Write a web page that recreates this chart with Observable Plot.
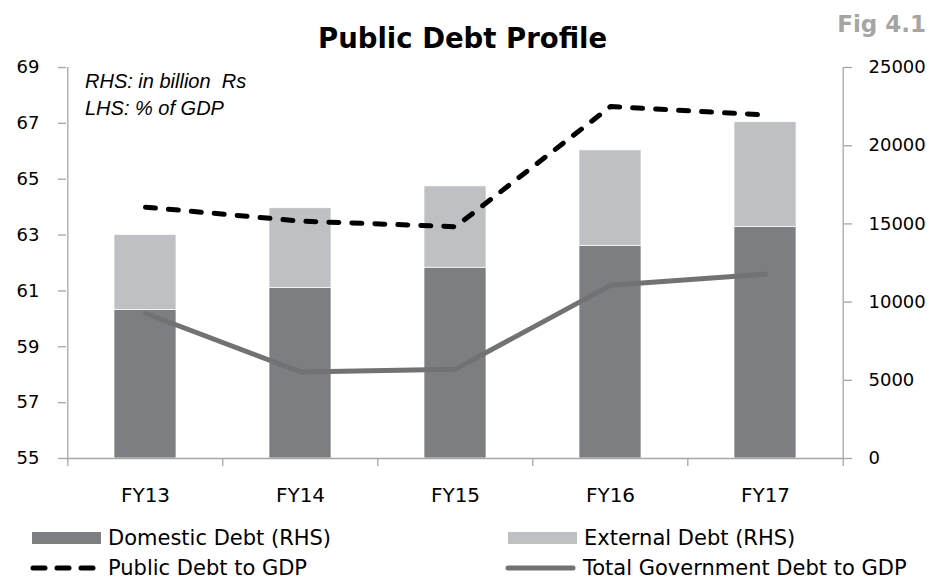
<!DOCTYPE html>
<html>
<head>
<meta charset="utf-8">
<script src="https://cdn.jsdelivr.net/npm/d3@7"></script>
<script src="https://cdn.jsdelivr.net/npm/@observablehq/plot@0.6"></script>
<style>
  body { margin: 0; background: #fff; }
  #wrap { position: relative; width: 938px; height: 582px; overflow: hidden; font-family: "DejaVu Sans", sans-serif; color: #000; }
  #chart { position: absolute; left: 0; top: 0; }
  .ov { position: absolute; white-space: nowrap; z-index: 2; }
  #title { left: 318px; top: 25px; font-size: 27.5px; line-height: 27px; font-weight: bold; }
  #fig { right: 12px; top: 13px; font-size: 23px; line-height: 23px; font-weight: bold; color: #a5a5a5; }
  #note { left: 85px; top: 68px; font-family: "Liberation Sans", sans-serif; font-style: italic; font-size: 20px; line-height: 27px; }
  .lg { position: absolute; display: flex; align-items: center; font-size: 21px; line-height: 22px; white-space: nowrap; }
  .lg svg { display: block; margin-right: 7px; }
</style>
</head>
<body>
<div id="wrap">
  <div id="chart"></div>
  <div id="title" class="ov">Public Debt Profile</div>
  <div id="fig" class="ov">Fig 4.1</div>
  <div id="note" class="ov">RHS: in billion&nbsp; Rs<br>LHS: % of GDP</div>
  <div id="legend"></div>
</div>
<script>
// ---- data ----
const years = ["FY13", "FY14", "FY15", "FY16", "FY17"];
const domesticDebt = [9500, 10900, 12200, 13600, 14800];      // RHS, billion Rs
const externalDebt = [4800, 5100, 5200, 6100, 6700];          // RHS, billion Rs
const publicDebtToGDP = [64.0, 63.5, 63.3, 67.6, 67.3];       // LHS, % of GDP
const totalGovDebtToGDP = [60.2, 58.1, 58.2, 61.2, 61.6];     // LHS, % of GDP
const leftTicks = [55, 57, 59, 61, 63, 65, 67, 69];
const rightTicks = [0, 5000, 10000, 15000, 20000, 25000];
const seriesNames = ["Domestic Debt (RHS)", "External Debt (RHS)", "Public Debt to GDP", "Total Government Debt to GDP"];

// ---- styling ----
const colDomestic = "#7d7e82";
const colExternal = "#bfc0c3";
const colPublic = "#000000";
const colTotal = "#727272";
const axisCol = "#a6a6a6";
const dash = "10,13";

const W = 938, H = 520, mL = 66, mR = 95, mT = 67, mB = 62;
const pIn = 0.6, pOut = 0.3;
const step = (W - mL - mR) / (years.length - pIn + 2 * pOut);

const lMin = leftTicks[0], lMax = leftTicks[leftTicks.length - 1];
const rMax = rightTicks[rightTicks.length - 1];
const toR = v => (v - lMin) / (lMax - lMin) * rMax;
const fromR = r => lMin + r / rMax * (lMax - lMin);

const bars = years.flatMap((y, i) => [
  {year: y, type: seriesNames[0], value: domesticDebt[i]},
  {year: y, type: seriesNames[1], value: externalDebt[i]}
]);
const pub = years.map((y, i) => ({year: y, v: publicDebtToGDP[i]}));
const tot = years.map((y, i) => ({year: y, v: totalGovDebtToGDP[i]}));
const boundaries = [
  ...years.map(y => ({year: y, side: -1})),
  {year: years[years.length - 1], side: 1}
];

const chart = Plot.plot({
  width: W, height: H,
  marginLeft: mL, marginRight: mR, marginTop: mT, marginBottom: mB,
  style: {fontFamily: "DejaVu Sans, sans-serif", fontSize: "18px", color: "#000", background: "transparent", overflow: "visible"},
  x: {domain: years, paddingInner: pIn, paddingOuter: pOut, align: 0.5, label: null},
  y: {domain: [0, rMax], label: null},
  color: {domain: seriesNames.slice(0, 2), range: [colDomestic, colExternal]},
  marks: [
    Plot.barY(bars, {x: "year", y: "value", fill: "type", stroke: "#ffffff", strokeWidth: 0.7}),
    // axis lines
    Plot.ruleY([0], {stroke: axisCol, strokeWidth: 1.3}),
    Plot.ruleX([years[0]], {x: d => d, y1: 0, y2: rMax, dx: -step / 2, stroke: axisCol, strokeWidth: 1.3}),
    Plot.ruleX([years[years.length - 1]], {x: d => d, y1: 0, y2: rMax, dx: step / 2, stroke: axisCol, strokeWidth: 1.3}),
    // category boundary ticks
    ...boundaries.map(b => Plot.ruleX([b], {x: "year", y1: 0, y2: 0, insetBottom: -8, dx: b.side * step / 2, stroke: axisCol, strokeWidth: 1.3})),
    Plot.axisY(leftTicks.map(toR), {anchor: "left", tickSize: 8, tickPadding: 19, stroke: axisCol, strokeWidth: 1.3, fill: "#000", tickFormat: d => String(Math.round(fromR(d))), label: null}),
    Plot.axisY(rightTicks, {anchor: "right", tickSize: 8, tickPadding: 17, stroke: axisCol, strokeWidth: 1.3, fill: "#000", tickFormat: d3.format("d"), label: null}),
    Plot.axisX({tickSize: 0, tickPadding: 29, fontSize: 20, fill: "#000", label: null}),
    // lines (LHS scale mapped onto RHS)
    Plot.line(tot, {x: "year", y: d => toR(d.v), stroke: colTotal, strokeWidth: 5, strokeLinecap: "round", strokeLinejoin: "round"}),
    Plot.line(pub, {x: "year", y: d => toR(d.v), stroke: colPublic, strokeWidth: 5, strokeDasharray: dash, strokeLinecap: "round", strokeLinejoin: "round"})
  ]
});
document.getElementById("chart").appendChild(chart);

// ---- legend ----
const legend = document.getElementById("legend");
const items = [
  {name: seriesNames[0], left: 32, top: 527, kind: "rect", color: colDomestic},
  {name: seriesNames[1], left: 508, top: 527, kind: "rect", color: colExternal},
  {name: seriesNames[2], left: 30, top: 557, kind: "dash", color: colPublic},
  {name: seriesNames[3], left: 505, top: 557, kind: "line", color: colTotal}
];
for (const it of items) {
  const div = document.createElement("div");
  div.className = "lg";
  div.style.left = it.left + "px";
  div.style.top = it.top + "px";
  const sw = it.kind === "rect" ? 69 : 71;
  let g;
  if (it.kind === "rect") g = `<rect x="0" y="5" width="${sw}" height="12" fill="${it.color}"/>`;
  else if (it.kind === "dash") g = `<line x1="3" y1="11" x2="${sw - 3}" y2="11" stroke="${it.color}" stroke-width="5" stroke-linecap="round" stroke-dasharray="12,12"/>`;
  else g = `<line x1="3" y1="11" x2="${sw - 3}" y2="11" stroke="${it.color}" stroke-width="5" stroke-linecap="round"/>`;
  div.innerHTML = `<svg width="${sw}" height="22">${g}</svg><span>${it.name}</span>`;
  legend.appendChild(div);
}
</script>
</body>
</html>
